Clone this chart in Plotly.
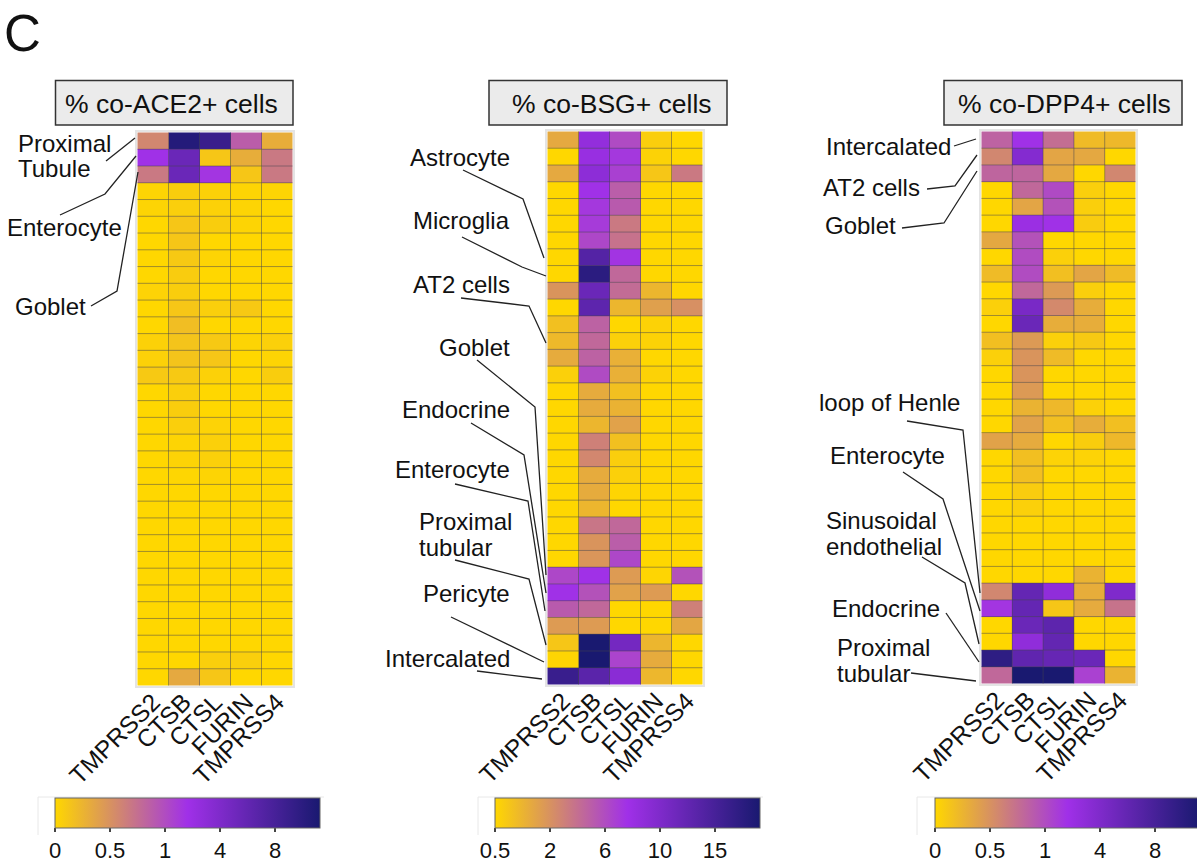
import numpy as np
import plotly.graph_objects as go

W, H = 1197, 863
FONT = "Liberation Sans"
TXT = "#111111"

genes = ["TMPRSS2", "CTSB", "CTSL", "FURIN", "TMPRSS4"]
rows = list(range(1, 34))

ace2 = [
 [.58,10.5,9,.88,.3],[2.2,5.5,.12,.3,.68],[.68,5.5,2.0,.12,.68],[.02,.07,.04,.02,.02],[.02,.06,.04,.02,0],
 [0,.12,.07,.02,0],[0,.12,0,0,0],[0,.1,.02,0,0],[0,.08,0,0,0],[.03,.07,0,0,0],
 [0,.12,.06,.1,0],[0,.18,0,0,0],[.04,.14,.1,.02,.05],[.04,.14,.12,0,.02],[.1,.1,.04,0,.07],
 [0,.06,0,0,0],[0,.07,0,0,0],[0,.06,.03,0,0],[0,.02,.05,0,0],[0,.03,.05,0,0],
 [0,.01,.02,0,0],[0,0,0,0,0],[0,0,0,0,0],[0,0,0,0,0],[0,0,0,0,0],
 [0,0,0,0,0],[0,0,0,0,0],[0,0,0,0,0],[0,0,0,0,0],[0,0,0,0,0],
 [0,0,0,0,0],[0,0,.06,.06,0],[0,.33,.12,0,0],
]
bsg = [
 [1.5,8.6,6.1,.7,.5],[.5,8.2,7.2,.6,.5],[1.5,9,6.7,.86,3.4],[.5,7.6,5,.5,.5],[.5,7.2,5.2,.5,.5],
 [.5,7,3.4,.5,.5],[.5,6.3,3.8,.5,.5],[.5,13.8,7.4,.5,.5],[.5,17.4,4.4,.5,.5],[1.94,11.85,4.2,1.22,.5],
 [.5,13,1.22,1.7,2.1],[1,4.76,.5,.6,.5],[1.15,4.4,.65,.6,.5],[1.45,4.76,1.35,.5,.5],[.65,6.1,1.35,.6,.5],
 [.5,1.45,1,.5,.5],[.5,1.45,1.3,.5,.5],[.5,1.22,1.65,.5,.5],[.5,3,1,.5,.5],[.5,2.6,.7,.5,.5],
 [.5,1.45,.65,.5,.5],[.5,1.45,.55,.5,.5],[.5,1.22,.5,.5,.5],[.5,3.6,4.4,.5,.5],[.5,1.94,5,.5,.5],
 [.5,1.9,6.3,.5,.5],[6.3,7.6,1.8,.55,5.7],[7.6,5.7,1.65,1.8,.5],[5.2,4.4,.5,.5,3],[1.8,1.8,.5,.5,1.55],
 [.86,19,11,1.22,.5],[.55,19,6.5,1.45,.5],[16.2,13.3,9.2,1.2,.5],
]
dpp4 = [
 [.84,2.2,.76,.2,.22],[.58,3.7,.36,.34,0],[.82,.82,.34,0,.58],[0,.8,1.1,.06,0],[0,.36,.96,.06,0],
 [0,2.5,2.2,.08,0],[.34,.96,0,0,0],[0,1.0,.05,0,0],[.2,1.0,.17,.36,.2],[0,.8,.44,.06,0],
 [.05,4.4,.56,.3,0],[0,5.5,.3,.3,0],[.17,.44,.05,.1,0],[.05,.48,.2,0,0],[0,.48,0,0,0],
 [0,.44,0,0,0],[0,.26,.22,.04,0],[0,.38,.17,.3,.17],[.38,.32,0,.07,.22],[0,.17,.03,.03,0],
 [0,.17,0,0,0],[0,.08,0,0,0],[0,.05,0,0,0],[0,0,0,0,0],[0,0,0,0,0],
 [0,0,0,0,0],[0,0,0,.26,0],[.58,5.9,3.1,.3,4],[2,5.9,.12,.32,.72],[0,5.5,6.4,0,0],
 [0,3.1,6,0,0],[9.8,6.2,5.8,5.5,0],[.8,11.3,11.3,1.5,.26],
]

ace2_ticks = [0, 0.5, 1, 4, 8]
bsg_ticks = [0.5, 2, 6, 10, 15]
dpp4_ticks = [0, 0.5, 1, 4, 8]
ace2_max, bsg_max, dpp4_max = 11.3, 19, 11.3

titles = ["% co-ACE2+ cells", "% co-BSG+ cells", "% co-DPP4+ cells"]

palette = [[0, "#FFD700"], [0.5, "#A030E8"], [1, "#191970"]]
BAR_SPAN = 265 / 55  # colour bar length in tick intervals

def X(p): return p / W
def Y(p): return 1 - p / H

fig = go.Figure()
shapes, annos = [], []
panels = [
    (ace2, ace2_ticks, ace2_max, (137, 293), (132, 686), 55, ""),
    (bsg, bsg_ticks, bsg_max, (547, 703), (131, 685), 495, "2"),
    (dpp4, dpp4_ticks, dpp4_max, (981, 1136), (131, 684), 935, "3"),
]
GRID = dict(color="rgba(70,70,80,0.5)", width=1)
for (vals, ticks, vmax, xr, yr, cbx, s) in panels:
    pos = np.interp(np.array(vals, float), ticks + [vmax], list(range(len(ticks))) + [BAR_SPAN])
    fig.add_trace(go.Heatmap(
        z=pos, x=genes, y=rows, xaxis="x" + s, yaxis="y" + s,
        zmin=0, zmax=BAR_SPAN, colorscale=palette, hoverinfo="skip",
        colorbar=dict(
            orientation="h", xref="container", yref="container",
            x=X(cbx), xanchor="left", y=Y(798), yanchor="top",
            lenmode="pixels", len=265, thicknessmode="pixels", thickness=30,
            xpad=0, ypad=0, outlinecolor="#666", outlinewidth=1, borderwidth=0,
            tickmode="array", tickvals=list(range(len(ticks))), ticktext=[str(t) for t in ticks],
            ticks="outside", ticklen=4, tickwidth=1.5, tickcolor="#444",
            tickfont=dict(family=FONT, size=22, color=TXT),
        ),
    ))
    axx = dict(domain=[X(xr[0]), X(xr[1])], anchor="y" + s, tickangle=-45, ticks="", showgrid=False,
               tickfont=dict(family=FONT, size=24.5, color=TXT), ticklabelstandoff=-10, showline=True, mirror=True,
               linecolor="#e4e4e4", linewidth=2, zeroline=False, type="category")
    axy = dict(domain=[Y(yr[1]), Y(yr[0])], anchor="x" + s, autorange="reversed", showticklabels=False,
               ticks="", showgrid=False, showline=True, mirror=True, linecolor="#e4e4e4", linewidth=2,
               zeroline=False)
    fig.update_layout({"xaxis" + s: axx, "yaxis" + s: axy})
    # cell separators drawn over the heatmap
    for r in rows[:-1]:
        shapes.append(dict(type="line", xref="x" + s, yref="y" + s, x0=-0.5, x1=len(genes) - 0.5,
                           y0=r + 0.5, y1=r + 0.5, line=GRID))
    for c in range(len(genes) - 1):
        shapes.append(dict(type="line", xref="x" + s, yref="y" + s, x0=c + 0.5, x1=c + 0.5,
                           y0=rows[0] - 0.5, y1=rows[-1] + 0.5, line=GRID))

def txt(s, x, yc, anchor="right", size=24):
    annos.append(dict(text=s, xref="paper", yref="paper", x=X(x), y=Y(yc), xanchor=anchor, yanchor="middle",
                      showarrow=False, borderpad=0, borderwidth=0,
                      font=dict(family=FONT, size=size, color=TXT)))

def leader(*pts):
    path = "M " + " L ".join(f"{X(a)} {Y(b)}" for a, b in pts)
    shapes.append(dict(type="path", path=path, xref="paper", yref="paper", line=dict(color="#222", width=1.3)))

# title boxes
for (x0, x1, tx), t in zip([(55.5, 293, 65), (489, 727, 512), (944, 1182, 958)], titles):
    shapes.append(dict(type="rect", xref="paper", yref="paper", x0=X(x0), x1=X(x1), y0=Y(125), y1=Y(80.5),
                       fillcolor="#EBEBEB", line=dict(color="#333", width=1.5)))
    txt(t, tx, 104, "left", 26.5)

# faint colour bar frames
for x0, x1 in [(38, 324), (478, 763), (917, 1199)]:
    shapes.append(dict(type="path", xref="paper", yref="paper",
                       path=f"M {X(x0)} {Y(835)} L {X(x0)} {Y(797)} L {X(x1)} {Y(797)}",
                       line=dict(color="#e8e8e8", width=1)))

txt("C", 4, 33, "left", 51)

# panel 1 labels
txt("Proximal", 18, 143, "left"); txt("Tubule", 18, 169, "left")
leader((106, 161), (135, 138))
txt("Enterocyte", 7, 227, "left")
leader((60, 215), (105, 194), (136, 156))
txt("Goblet", 15, 306, "left")
leader((91, 306), (117, 291), (138, 172))

# panel 2 labels
txt("Astrocyte", 510, 157); leader((463, 170), (523, 199), (544, 258))
txt("Microglia", 510, 220); leader((462, 237), (522, 267), (546, 276))
txt("AT2 cells", 510, 285); leader((461, 298), (529, 306), (546, 343))
txt("Goblet", 510, 347); leader((477, 360), (535, 407), (546, 575))
txt("Endocrine", 510, 409); leader((471, 423), (524, 455), (546, 593))
txt("Enterocyte", 510, 469); leader((455, 484), (528, 501), (545, 611))
txt("Proximal", 419, 521, "left"); txt("tubular", 419, 547, "left")
leader((455, 560), (529, 579), (546, 645))
txt("Pericyte", 510, 593); leader((451, 617), (544, 662))
txt("Intercalated", 510, 658); leader((477, 671), (542, 679))

# panel 3 labels
txt("Intercalated", 826, 147, "left"); leader((954, 146), (976, 139))
txt("AT2 cells", 823, 187, "left"); leader((927, 189), (955, 186), (977, 155))
txt("Goblet", 825, 225, "left"); leader((902, 228), (944, 223), (977, 171))
txt("loop of Henle", 819, 402, "left"); leader((907, 421), (963, 430), (980, 593))
txt("Enterocyte", 830, 456, "left"); leader((903, 472), (943, 499), (980, 611))
txt("Sinusoidal", 826, 520, "left"); txt("endothelial", 826, 546, "left")
leader((922, 557), (965, 583), (979, 644))
txt("Endocrine", 832, 608, "left"); leader((946, 613), (979, 662))
txt("Proximal", 837, 647, "left"); txt("tubular", 837, 673, "left")
leader((911, 673), (976, 681))

fig.update_layout(
    width=W, height=H, margin=dict(l=0, r=0, t=0, b=0, autoexpand=False),
    paper_bgcolor="white", plot_bgcolor="white",
    shapes=shapes, annotations=annos,
)
fig.write_html("out.html", config={"displayModeBar": False},
               post_script="document.body.style.margin='0';document.body.style.overflow='hidden';")
